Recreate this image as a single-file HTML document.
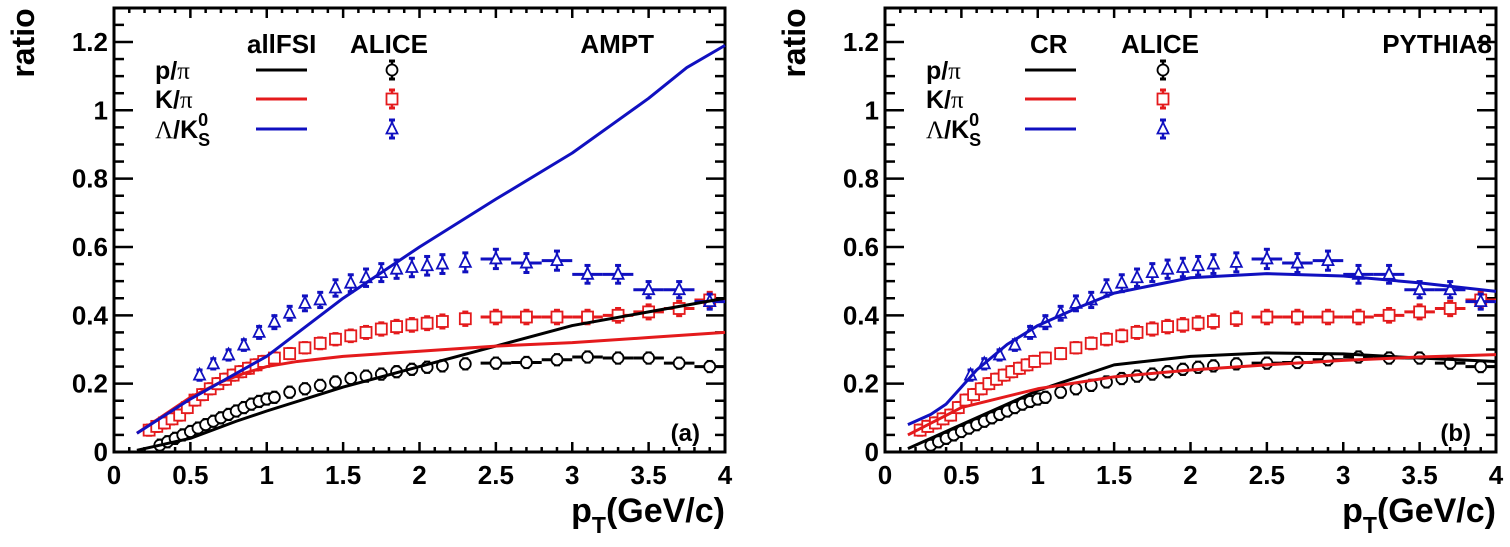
<!DOCTYPE html>
<html><head><meta charset="utf-8"><style>
html,body{margin:0;padding:0;background:#fff;}
svg text{font-family:"Liberation Sans",sans-serif;font-weight:bold;}
</style></head><body>
<svg id="s" width="1510" height="542" xmlns="http://www.w3.org/2000/svg"></svg>
<script>
const S=document.getElementById('s');let h='';
const Y0=452,SY=341.7,SX=152.75;
function panel(X0,P){
 const X=v=>X0+v*SX, Y=v=>Y0-v*SY;
 const W=611;
 h+=`<rect x="${X0}" y="8" width="${W}" height="${Y0-8}" fill="none" stroke="#000" stroke-width="3"/>`;
 for(let i=0;i<=40;i++){const v=i/10;const x=X(v);const maj=i%5==0;const l=maj?10:5;
  h+=`<line x1="${x}" y1="${Y0}" x2="${x}" y2="${Y0-l}" stroke="#000" stroke-width="2.5"/>`;
  h+=`<line x1="${x}" y1="8" x2="${x}" y2="${8+l}" stroke="#000" stroke-width="2.5"/>`;}
 for(let i=0;i<=26;i++){const v=i*0.05;const y=Y(v);if(y<8)break;const maj=i%4==0;const l=maj?19:10;
  h+=`<line x1="${X0}" y1="${y}" x2="${X0+l}" y2="${y}" stroke="#000" stroke-width="2.5"/>`;
  h+=`<line x1="${X0+W}" y1="${y}" x2="${X0+W-l}" y2="${y}" stroke="#000" stroke-width="2.5"/>`;}
 ['0','0.2','0.4','0.6','0.8','1','1.2'].forEach((t,i)=>{h+=`<text x="${X0-6}" y="${Y(i*0.2)+9}" font-size="26" text-anchor="end">${t}</text>`});
 ['0','0.5','1','1.5','2','2.5','3','3.5','4'].forEach((t,i)=>{h+=`<text x="${X(i*0.5)}" y="${Y0+32}" font-size="26" text-anchor="middle">${t}</text>`});
 h+=`<text transform="translate(${X0-80},${43}) rotate(-90)" font-size="32" text-anchor="middle">ratio</text>`;
 h+=`<text x="${X0+W}" y="${Y0+70}" font-size="34" text-anchor="end"><tspan>p</tspan><tspan font-size="23" dy="11">T</tspan><tspan dy="-11">(GeV/c)</tspan></text>`;
 h+=`<text x="${X0+W-25}" y="${Y0-11}" font-size="24" text-anchor="end">${P.tag}</text>`;
 const L=X0+41;
 h+=`<text x="${L}" y="79" font-size="25">p/<tspan font-family="Liberation Serif" font-weight="normal">π</tspan></text>`;
 h+=`<text x="${L}" y="108" font-size="25">K/<tspan font-family="Liberation Serif" font-weight="normal">π</tspan></text>`;
 h+=`<text x="${L}" y="138" font-size="25"><tspan font-family="Liberation Serif" font-weight="normal">Λ</tspan>/K<tspan font-size="18" dy="-12">0</tspan><tspan font-size="18" dx="-10" dy="20">S</tspan></text>`;
 h+=`<text x="${X0+P.h1}" y="53" font-size="26">${P.n1}</text><text x="${X0+236}" y="53" font-size="26">ALICE</text><text x="${X0+P.h3}" y="53" font-size="26" text-anchor="end">${P.n3}</text>`;
 const lx=X0+P.lx;
 [['#000',70],['#e41a1c',99],['#1010c0',129]].forEach(([c,y])=>h+=`<line x1="${lx}" y1="${y}" x2="${lx+51}" y2="${y}" stroke="${c}" stroke-width="3"/>`);
 const mx=X0+P.mx;
 mark(mx,70,'c','#000',9,0);mark(mx,99,'s','#e41a1c',9,0);mark(mx,129,'t','#1010c0',9,0);
 const dat=[[A_p,'c','#000'],[A_k,'s','#e41a1c'],[A_l,'t','#1010c0']];
 dat.forEach(([d,m,c])=>d.forEach(p=>{const dx=p[0]>=2.4?0.1:0;mark(X(p[0]),Y(p[1]),m,c,Math.max(p[1]*0.05,0.015)*SY,dx*SX)}));
 P.cv.forEach(([c,pts])=>{h+=`<polyline fill="none" stroke="${c}" stroke-width="3" stroke-linejoin="round" points="${pts.map(p=>X(p[0])+','+Y(p[1])).join(' ')}"/>`});
}
function mark(x,y,m,c,e,dx){
 h+=`<line x1="${x}" y1="${y-e}" x2="${x}" y2="${y+e}" stroke="${c}" stroke-width="2.5"/>`;
 h+=`<line x1="${x-3}" y1="${y-e}" x2="${x+3}" y2="${y-e}" stroke="${c}" stroke-width="3"/><line x1="${x-3}" y1="${y+e}" x2="${x+3}" y2="${y+e}" stroke="${c}" stroke-width="3"/>`;
 if(dx)h+=`<line x1="${x-dx}" y1="${y}" x2="${x+dx}" y2="${y}" stroke="${c}" stroke-width="3"/>`;
 if(m=='c')h+=`<circle cx="${x}" cy="${y}" r="5.5" fill="#fff" stroke="${c}" stroke-width="1.8"/>`;
 if(m=='s')h+=`<rect x="${x-5.5}" y="${y-5.5}" width="11" height="11" fill="#fff" stroke="${c}" stroke-width="1.8"/>`;
 if(m=='t')h+=`<polygon points="${x},${y-6.5} ${x-5.5},${y+4.5} ${x+5.5},${y+4.5}" fill="#fff" stroke="${c}" stroke-width="1.8"/>`;
}
const A_p=[[.3,.02],[.35,.03],[.4,.04],[.45,.05],[.5,.06],[.55,.07],[.6,.08],[.65,.09],[.7,.1],[.75,.11],[.8,.12],[.85,.13],[.9,.14],[.95,.148],[1,.155],[1.05,.16],[1.15,.175],[1.25,.185],[1.35,.195],[1.45,.205],[1.55,.215],[1.65,.222],[1.75,.228],[1.85,.235],[1.95,.242],[2.05,.248],[2.15,.252],[2.3,.258],[2.5,.26],[2.7,.262],[2.9,.27],[3.1,.278],[3.3,.275],[3.5,.275],[3.7,.26],[3.9,.25]];
const A_k=[[.23,.064],[.28,.075],[.33,.085],[.38,.097],[.43,.108],[.48,.13],[.53,.152],[.58,.168],[.63,.185],[.68,.2],[.73,.213],[.78,.225],[.83,.235],[.88,.245],[.93,.255],[.98,.265],[1.05,.275],[1.15,.288],[1.25,.305],[1.35,.318],[1.45,.33],[1.55,.34],[1.65,.35],[1.75,.36],[1.85,.367],[1.95,.372],[2.05,.377],[2.15,.382],[2.3,.39],[2.5,.395],[2.7,.395],[2.9,.395],[3.1,.395],[3.3,.4],[3.5,.41],[3.7,.42],[3.9,.445]];
const A_l=[[.56,.225],[.65,.258],[.75,.284],[.85,.313],[.95,.35],[1.05,.38],[1.15,.406],[1.25,.435],[1.35,.445],[1.45,.48],[1.55,.494],[1.65,.51],[1.75,.525],[1.85,.535],[1.95,.54],[2.05,.545],[2.15,.55],[2.3,.555],[2.5,.565],[2.7,.553],[2.9,.56],[3.1,.52],[3.3,.52],[3.5,.475],[3.7,.475],[3.9,.44]];
panel(114,{tag:'(a)',n1:'allFSI',h1:133,n3:'AMPT',h3:540,lx:142,mx:278,cv:[
 ['#000',[[.15,.005],[.5,.04],[.8,.09],[1,.12],[1.5,.19],[2,.25],[2.5,.31],[3,.37],[3.5,.41],[4,.45]]],
 ['#e41a1c',[[.15,.055],[.3,.1],[.5,.16],[.7,.205],[.85,.23],[1,.25],[1.2,.265],[1.5,.28],[2,.295],[2.5,.31],[3,.32],[3.5,.335],[4,.35]]],
 ['#1010c0',[[.15,.055],[.5,.155],[1,.28],[1.5,.45],[2,.6],[2.5,.74],[3,.875],[3.25,.955],[3.5,1.035],[3.75,1.125],[4,1.19]]]]});
panel(885,{tag:'(b)',n1:'CR',h1:145,n3:'PYTHIA8',h3:607,lx:140,mx:278,cv:[
 ['#000',[[.15,.01],[.5,.08],[1,.18],[1.5,.255],[2,.28],[2.5,.29],[3,.287],[3.5,.275],[4,.265]]],
 ['#e41a1c',[[.15,.05],[.5,.13],[1,.185],[1.5,.22],[2,.24],[2.5,.255],[3,.268],[3.5,.278],[4,.285]]],
 ['#1010c0',[[.15,.08],[.3,.11],[.4,.14],[.5,.19],[.6,.24],[.8,.315],[1,.37],[1.25,.42],[1.5,.465],[2,.51],[2.5,.522],[3,.515],[3.5,.495],[4,.47]]]]});
S.innerHTML=h;
</script>
</body></html>
